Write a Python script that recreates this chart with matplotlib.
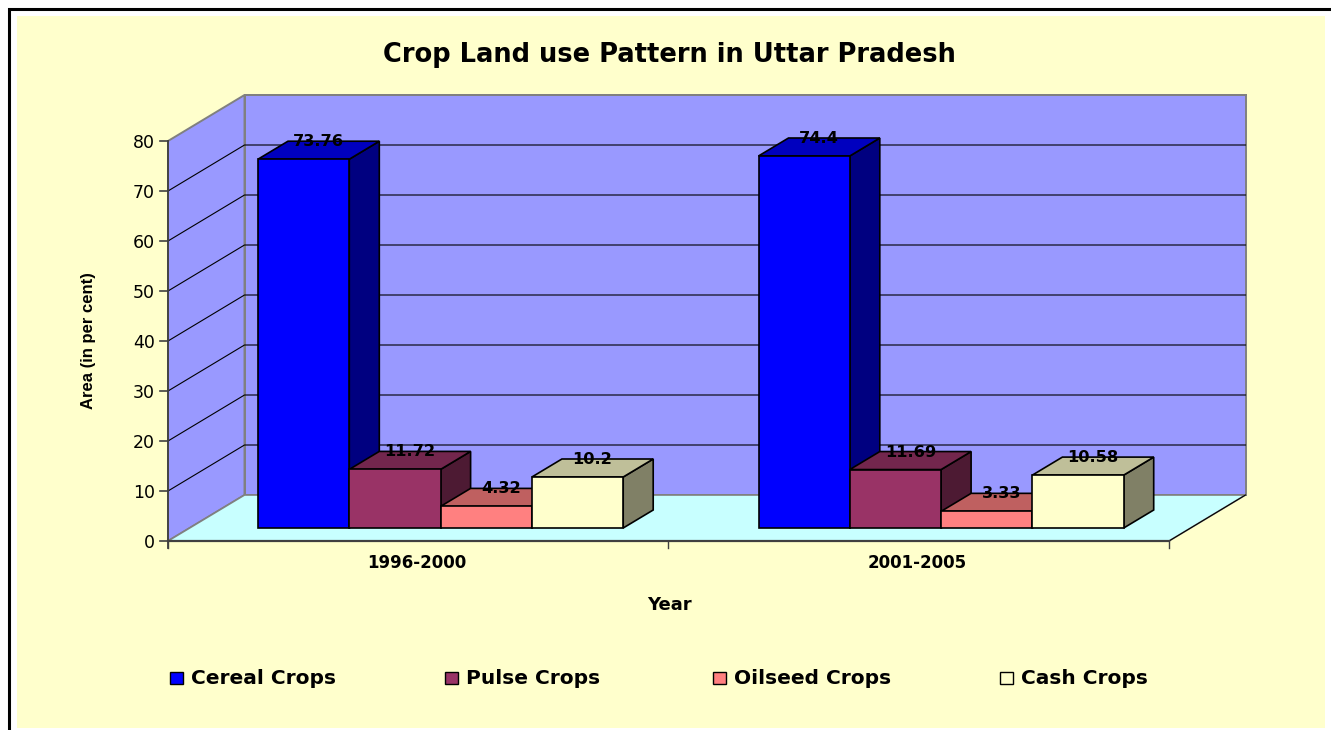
import numpy as np
import matplotlib
matplotlib.use('Agg')
import matplotlib.pyplot as plt
from matplotlib.patches import Polygon, Rectangle

#Data
years = ['1996-2000', '2001-2005']
crops = ['Cereal Crops', 'Pulse Crops', 'Oilseed Crops', 'Cash Crops']
cereal = [73.76, 74.4]
pulse = [11.72, 11.69]
oilseed = [4.32, 3.33]
cash = [10.2, 10.58]
y_ticks = [0, 10, 20, 30, 40, 50, 60, 70, 80]

#face, top and side colours of each crop
front_cols = ['#0000FF', '#993366', '#FF8080', '#FFFFCC']
top_cols = ['#0000BF', '#73264D', '#BF6060', '#BFBF99']
side_cols = ['#000080', '#4D1A33', '#804040', '#808066']
series = [cereal, pulse, oilseed, cash]

#the original text is a stretched Arial, DejaVu has about the same proportions
plt.rcParams['font.family'] = ['DejaVu Sans']

#whole figure is one axes in pixel coordinates
fig = plt.figure(figsize=(13.31, 7.3), dpi=100)
ax = fig.add_axes([0, 0, 1, 1])
ax.set_xlim(0, 1331)
ax.set_ylim(730, 0)
ax.axis('off')

#chart geometry
x0, x1 = 168, 1169
y0 = 541
ppu = 5.0            #pixels per percent
dx, dy = 76.5, -46   #depth of the box
bx, by = 30, -18     #depth of one bar
base = 528
slot = (x1 - x0) / len(years)
gap = 90
bar_w = 91.3

def val_y(v):
    return y0 - ppu*v

def quad(pts, fc, ec='black', lw=1.2, z=2):
    ax.add_patch(Polygon(pts, closed=True, fc=fc, ec=ec, lw=lw, zorder=z, joinstyle='miter'))

#page and outer border
ax.add_patch(Rectangle((17, 16), 1308, 712, fc='#FFFFCC', ec='none', zorder=0))
ax.plot([9, 9, 1331], [730, 9, 9], color='black', lw=2.2, zorder=1, solid_joinstyle='miter')

#walls and floor
top = y_ticks[-1]
quad([(x0+dx, val_y(0)+dy), (x1+dx, val_y(0)+dy), (x1+dx, val_y(top)+dy), (x0+dx, val_y(top)+dy)],
     '#9999FF', ec='#808080', lw=1.4, z=1)
quad([(x0, val_y(0)), (x0+dx, val_y(0)+dy), (x0+dx, val_y(top)+dy), (x0, val_y(top))],
     '#9999FF', ec='#808080', lw=1.4, z=1)
quad([(x0, val_y(0)), (x1, val_y(0)), (x1+dx, val_y(0)+dy), (x0+dx, val_y(0)+dy)],
     '#C8FFFF', ec='#808080', lw=1.2, z=1)

#gridlines on both walls
for v in y_ticks[1:-1]:
    ax.plot([x0, x0+dx, x1+dx], [val_y(v), val_y(v)+dy, val_y(v)+dy], color='black', lw=0.8, zorder=1.5)
ax.plot([x0+dx, x1+dx], [val_y(top)+dy]*2, color='#808080', lw=1.2, zorder=1.5)
ax.plot([x1, x1+dx], [y0, y0+dy], color='black', lw=0.8, zorder=1.6)

#axes lines and ticks
ax.plot([x0, x0], [val_y(top), y0+7], color='#404040', lw=1.3, zorder=1.7)
ax.plot([x0, x1], [y0, y0], color='#404040', lw=1.6, zorder=1.7)
for v in y_ticks:
    ax.plot([x0-8, x0], [val_y(v), val_y(v)], color='#404040', lw=1.2, zorder=1.7)
    ax.text(x0-13, val_y(v), str(v), ha='right', va='center_baseline', fontsize=12.5, color='black')
for i in range(len(years)+1):
    ax.plot([x0+i*slot-1*(i==1)]*2, [y0, y0+7], color='#404040', lw=1.0, zorder=1.7)

#bars, painted left to right so that the later ones overlap
for g, yr in enumerate(years):
    for s, vals in enumerate(series):
        v = vals[g]
        xl = x0 + g*slot + gap + s*bar_w
        xr = xl + bar_w
        yt = base - ppu*v
        quad([(xr, base), (xr+bx, base+by), (xr+bx, yt+by), (xr, yt)], side_cols[s])
        quad([(xl, yt), (xr, yt), (xr+bx, yt+by), (xl+bx, yt+by)], top_cols[s])
        quad([(xl, base), (xr, base), (xr, yt), (xl, yt)], front_cols[s])
        ax.text((xl+xr)/2+bx/2, yt+by-1, str(v), ha='center', va='center_baseline', fontsize=11.7,
                fontweight='bold', color='black', zorder=5)
    ax.text(x0+(g+0.5)*slot-1.5, 561.5, yr, ha='center', va='center_baseline', fontsize=12, fontweight='bold')

#titles
ax.text(669.5, 52.5, 'Crop Land use Pattern in Uttar Pradesh', ha='center', va='center_baseline',
        fontsize=18.5, fontweight='bold')
ax.text(669, 602.5, 'Year', ha='center', va='center_baseline', fontsize=13, fontweight='bold')
ax.text(89, 341, 'Area (in per cent)', ha='center', va='center', rotation=90,
        fontsize=12, fontweight='bold', family='Liberation Sans')

#legend
leg_x = [170, 445, 713, 1000]
for name, fc, lx in zip(crops, front_cols, leg_x):
    ax.add_patch(Rectangle((lx, 672), 13, 12, fc=fc, ec='black', lw=1.0, zorder=3))
    ax.text(lx+21, 677, name, ha='left', va='center_baseline', fontsize=14.5, fontweight='bold')

fig.savefig('out.png', dpi=100, facecolor='white')
